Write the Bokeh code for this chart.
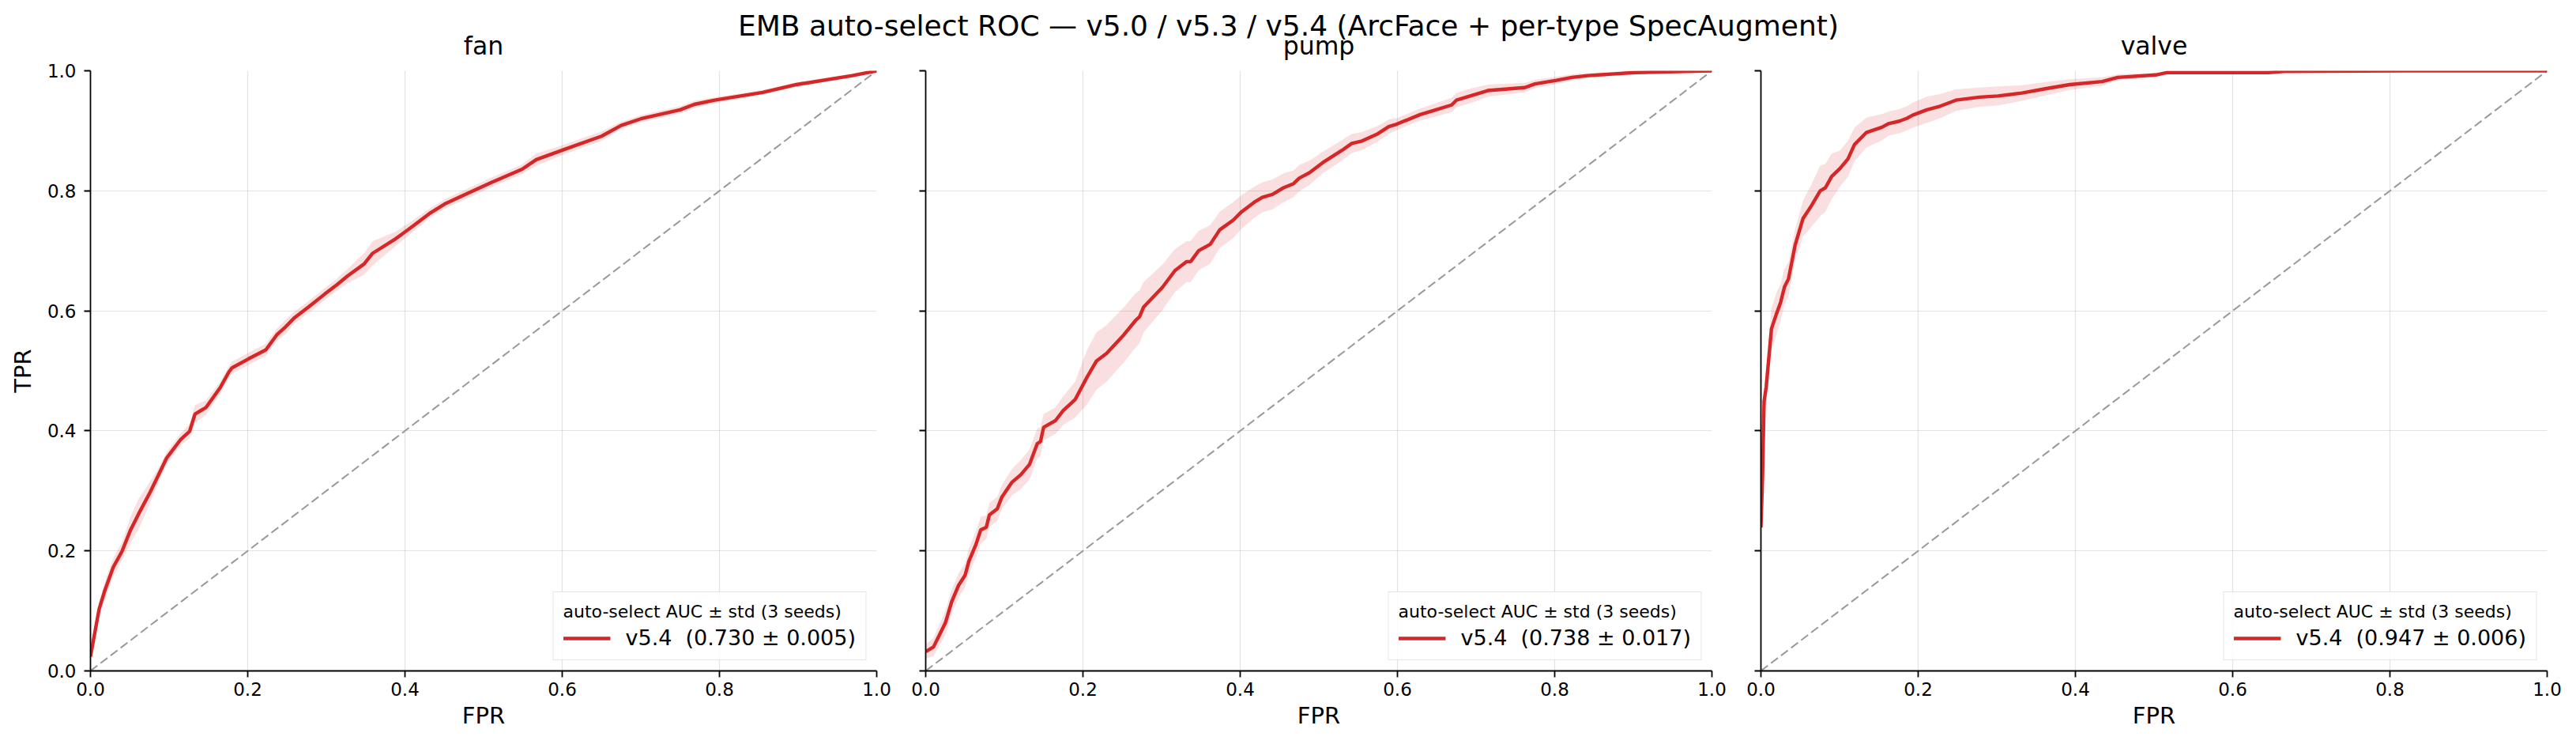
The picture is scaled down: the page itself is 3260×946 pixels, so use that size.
import numpy as np
from bokeh.plotting import figure
from bokeh.models import Range1d, Label, Legend, LegendItem, FixedTicker, CustomJSTickFormatter
from bokeh.layouts import column, row
from bokeh.embed import file_html
from bokeh.resources import INLINE

# ---------------- data ----------------
suptitle = "EMB auto-select ROC \u2014 v5.0 / v5.3 / v5.4 (ArcFace + per-type SpecAugment)"
machine_types = ["fan", "pump", "valve"]
version = "v5.4"
auc_mean = [0.730, 0.738, 0.947]
auc_std = [0.005, 0.017, 0.006]
legend_title = "auto-select AUC \u00b1 std (3 seeds)"
tick_values = [0.0, 0.2, 0.4, 0.6, 0.8, 1.0]
tick_labels = ["0.0", "0.2", "0.4", "0.6", "0.8", "1.0"]
chance_x = [0.0, 1.0]
chance_y = [0.0, 1.0]

fan_fpr = [0.0, 0.011, 0.018, 0.029, 0.040, 0.051, 0.061, 0.076, 0.086, 0.097,
           0.115, 0.126, 0.133, 0.147, 0.165, 0.176, 0.180, 0.201, 0.223, 0.237,
           0.248, 0.259, 0.277, 0.298, 0.313, 0.327, 0.348, 0.359, 0.388, 0.409,
           0.431, 0.452, 0.477, 0.510, 0.549, 0.567, 0.603, 0.650, 0.675, 0.700,
           0.750, 0.768, 0.794, 0.855, 0.898, 0.969, 1.0]
fan_tpr = [0.024, 0.103, 0.133, 0.173, 0.199, 0.235, 0.261, 0.298, 0.325, 0.355,
           0.386, 0.399, 0.428, 0.439, 0.472, 0.498, 0.505, 0.520, 0.535, 0.560,
           0.573, 0.588, 0.606, 0.628, 0.643, 0.658, 0.678, 0.696, 0.720, 0.740,
           0.762, 0.779, 0.794, 0.814, 0.836, 0.852, 0.869, 0.891, 0.909, 0.920,
           0.935, 0.944, 0.951, 0.964, 0.977, 0.992, 1.0]
fan_std = [0.005, 0.012, 0.015, 0.015, 0.015, 0.022, 0.025, 0.018, 0.012, 0.010,
           0.010, 0.012, 0.015, 0.012, 0.010, 0.010, 0.010, 0.010, 0.010, 0.010,
           0.012, 0.010, 0.010, 0.010, 0.010, 0.012, 0.018, 0.020, 0.012, 0.010,
           0.008, 0.008, 0.008, 0.008, 0.008, 0.010, 0.008, 0.008, 0.006, 0.006,
           0.006, 0.006, 0.005, 0.004, 0.004, 0.003, 0.0]

pump_fpr = [0.0, 0.010, 0.025, 0.033, 0.042, 0.050, 0.055, 0.064, 0.070, 0.077,
            0.081, 0.091, 0.097, 0.1095, 0.121, 0.132, 0.142, 0.146, 0.150, 0.165,
            0.175, 0.190, 0.205, 0.217, 0.230, 0.252, 0.267, 0.272, 0.277, 0.301,
            0.317, 0.332, 0.337, 0.347, 0.362, 0.374, 0.391, 0.401, 0.418, 0.428,
            0.441, 0.455, 0.468, 0.475, 0.488, 0.505, 0.529, 0.542, 0.555, 0.575,
            0.589, 0.599, 0.629, 0.649, 0.669, 0.675, 0.695, 0.715, 0.762, 0.775,
            0.802, 0.822, 0.842, 0.902, 1.0]
pump_tpr = [0.032, 0.040, 0.080, 0.115, 0.143, 0.159, 0.183, 0.211, 0.235, 0.239,
            0.260, 0.270, 0.290, 0.314, 0.327, 0.344, 0.379, 0.382, 0.406, 0.417,
            0.434, 0.452, 0.489, 0.516, 0.529, 0.560, 0.584, 0.590, 0.606, 0.639,
            0.667, 0.682, 0.682, 0.700, 0.711, 0.735, 0.751, 0.764, 0.781, 0.789,
            0.794, 0.805, 0.812, 0.821, 0.830, 0.847, 0.867, 0.879, 0.883, 0.895,
            0.907, 0.911, 0.927, 0.935, 0.943, 0.951, 0.959, 0.967, 0.972, 0.978,
            0.984, 0.989, 0.992, 0.997, 1.0]
pump_std = [0.012, 0.015, 0.020, 0.020, 0.020, 0.020, 0.022, 0.022, 0.022, 0.020,
            0.020, 0.020, 0.020, 0.022, 0.024, 0.025, 0.025, 0.024, 0.022, 0.022,
            0.024, 0.030, 0.045, 0.048, 0.047, 0.046, 0.045, 0.044, 0.042, 0.038,
            0.036, 0.034, 0.034, 0.033, 0.032, 0.030, 0.030, 0.028, 0.026, 0.025,
            0.025, 0.024, 0.022, 0.022, 0.020, 0.018, 0.017, 0.016, 0.015, 0.013,
            0.012, 0.010, 0.010, 0.011, 0.012, 0.012, 0.012, 0.010, 0.008, 0.007,
            0.006, 0.005, 0.004, 0.003, 0.0]

valve_fpr = [0.0, 0.002, 0.004, 0.0067, 0.0134, 0.020, 0.025, 0.030, 0.035, 0.0436,
             0.0536, 0.0637, 0.0754, 0.082, 0.090, 0.1005, 0.1106, 0.119, 0.134, 0.154,
             0.1625, 0.176, 0.186, 0.193, 0.211, 0.228, 0.248, 0.278, 0.3015, 0.332,
             0.366, 0.393, 0.434, 0.454, 0.502, 0.516, 0.645, 0.665, 0.815, 1.0]
valve_tpr = [0.239, 0.322, 0.449, 0.473, 0.570, 0.596, 0.614, 0.640, 0.653, 0.710,
             0.754, 0.774, 0.800, 0.805, 0.824, 0.837, 0.853, 0.877, 0.897, 0.906,
             0.912, 0.916, 0.921, 0.926, 0.935, 0.941, 0.951, 0.956, 0.958, 0.963,
             0.971, 0.977, 0.982, 0.989, 0.993, 0.997, 0.997, 0.999, 1.0, 1.0]
valve_std = [0.0, 0.010, 0.020, 0.030, 0.035, 0.035, 0.030, 0.030, 0.028, 0.026,
             0.030, 0.035, 0.042, 0.040, 0.038, 0.030, 0.030, 0.028, 0.025, 0.022,
             0.020, 0.020, 0.020, 0.021, 0.022, 0.020, 0.018, 0.016, 0.016, 0.013,
             0.011, 0.009, 0.007, 0.005, 0.003, 0.002, 0.002, 0.001, 0.0, 0.0]

curves = {
    "fan": (fan_fpr, fan_tpr, fan_std),
    "pump": (pump_fpr, pump_tpr, pump_std),
    "valve": (valve_fpr, valve_tpr, valve_std),
}

# ---------------- style / layout ----------------
FONT = "DejaVu Sans"
RED = "#d62728"
FRAME_W, FRAME_H = 995, 759
TOTAL_W = 3260
HEAD_H = 76          # header figure (suptitle + panel titles)
TOP_B, BOT_B = 13, 84
widths = [1140, 1057, 1063]
left_b = [114, 31, 31]
right_b = [31, 31, 37]
SUP_MID = 32         # px from top of header to suptitle text centre
SUB_MID = 57         # px from top of header to panel-title text centre


def make_fmt(show):
    return CustomJSTickFormatter(args=dict(tvals=tick_values, tlabels=tick_labels,
                                           show=show), code="""
        if (!show) return "";
        for (let i = 0; i < tvals.length; i++) {
            if (Math.abs(tvals[i] - tick) < 1e-9) return tlabels[i];
        }
        return "";
    """)


# header figure: suptitle and per-panel titles
head = figure(width=TOTAL_W, height=HEAD_H, x_range=Range1d(0, TOTAL_W),
              y_range=Range1d(0, HEAD_H), toolbar_location=None, output_backend="svg",
              x_axis_location=None, y_axis_location=None, min_border=0, title=None)
head.grid.visible = False
head.outline_line_color = None
head.add_layout(Label(x=TOTAL_W / 2, y=HEAD_H - SUP_MID, text=suptitle,
                      text_align="center", text_baseline="middle", text_font=FONT,
                      text_font_size="36px", text_color="black"))
x0 = 0
for i, mt in enumerate(machine_types):
    cx = x0 + left_b[i] + FRAME_W / 2
    head.add_layout(Label(x=cx, y=HEAD_H - SUB_MID, text=mt, text_align="center",
                          text_baseline="middle", text_font=FONT,
                          text_font_size="31.5px", text_color="black"))
    x0 += widths[i]

panels = []
for i, mt in enumerate(machine_types):
    fpr, tpr, std = curves[mt]
    fpr = np.array(fpr); tpr = np.array(tpr); std = np.array(std)
    lo = np.clip(tpr - std, 0, 1); hi = np.clip(tpr + std, 0, 1)

    p = figure(width=widths[i], height=TOP_B + FRAME_H + BOT_B,
               x_range=Range1d(0, 1), y_range=Range1d(0, 1),
               toolbar_location=None, output_backend="svg", title=None,
               min_border_left=left_b[i], min_border_right=right_b[i],
               min_border_top=TOP_B, min_border_bottom=BOT_B)
    p.outline_line_color = None
    p.background_fill_color = "white"
    p.border_fill_color = "white"

    for ax in (p.xaxis[0], p.yaxis[0]):
        ax.ticker = FixedTicker(ticks=tick_values)
        ax.axis_line_width = 1.8
        ax.major_tick_line_width = 1.8
        ax.major_tick_out = 8
        ax.major_tick_in = 0
        ax.minor_tick_out = 0
        ax.minor_tick_in = 0
        ax.major_label_text_font = FONT
        ax.major_label_text_font_size = "23px"
        ax.major_label_text_color = "black"
        ax.axis_label_text_font = FONT
        ax.axis_label_text_font_size = "29px"
        ax.axis_label_text_font_style = "normal"
        ax.axis_label_text_color = "black"

    p.xaxis.formatter = make_fmt(True)
    p.xaxis.axis_label = "FPR"
    p.xaxis.major_label_standoff = 6
    p.xaxis.axis_label_standoff = 5
    if i == 0:
        p.yaxis.formatter = make_fmt(True)
        p.yaxis.axis_label = "TPR"
        p.yaxis.major_label_standoff = 10
        p.yaxis.axis_label_standoff = 11
    else:
        # shared y axis: ticks only, no labels
        p.yaxis.formatter = make_fmt(False)
        p.yaxis.major_label_text_color = None
        p.yaxis.major_label_standoff = 0

    p.grid.grid_line_color = "#b0b0b0"
    p.grid.grid_line_alpha = 0.35
    p.grid.grid_line_width = 1.2

    p.line(chance_x, chance_y, line_color="#999999", line_width=2.0, line_dash="11 5")
    p.varea(x=fpr, y1=lo, y2=hi, fill_color=RED, fill_alpha=0.15)
    ln = p.line(fpr, tpr, line_color=RED, line_width=4.4)

    label = f"{version}  ({auc_mean[i]:.3f} \u00b1 {auc_std[i]:.3f})"
    leg = Legend(items=[LegendItem(label=label, renderers=[ln])],
                 location="bottom_right", title=legend_title)
    leg.title_text_font = FONT
    leg.title_text_font_size = "22px"
    leg.title_text_font_style = "normal"
    leg.title_text_color = "black"
    leg.title_standoff = 5
    leg.label_text_font = FONT
    leg.label_text_font_size = "27px"
    leg.label_text_color = "black"
    leg.glyph_width = 60
    leg.glyph_height = 30
    leg.label_height = 30
    leg.label_standoff = 19
    leg.padding = 12
    leg.spacing = 0
    leg.margin = 13
    leg.border_line_color = "#cccccc"
    leg.border_line_width = 1.8
    leg.background_fill_alpha = 0.8
    p.add_layout(leg)
    panels.append(p)

layout = column(head, row(*panels, spacing=0), spacing=0)
open("out.html", "w").write(file_html(layout, INLINE))
